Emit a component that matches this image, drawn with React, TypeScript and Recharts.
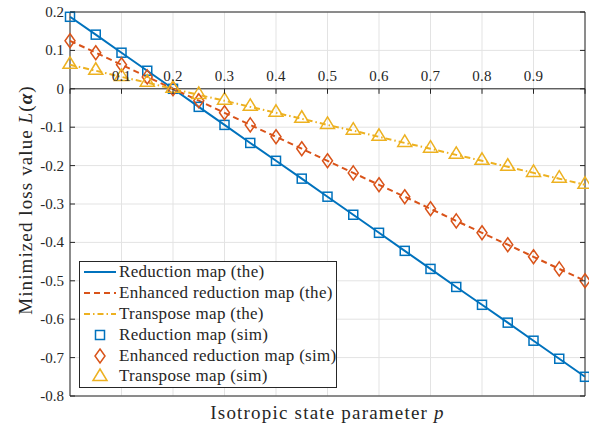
// LossChart.tsx
import {
  LineChart,
  Line,
  XAxis,
  YAxis,
  CartesianGrid,
  ReferenceLine,
  ReferenceArea,
  Legend,
} from "recharts";

const pValues = [
  0, 0.05, 0.1, 0.15, 0.2, 0.25, 0.3, 0.35, 0.4, 0.45, 0.5, 0.55, 0.6, 0.65,
  0.7, 0.75, 0.8, 0.85, 0.9, 0.95, 1,
];

const reductionVals = [
  0.1875, 0.141, 0.094, 0.047, 0, -0.047, -0.094, -0.141, -0.1875, -0.234,
  -0.281, -0.328, -0.375, -0.422, -0.469, -0.516, -0.5625, -0.609, -0.656,
  -0.703, -0.75,
];

const enhancedVals = [
  0.125, 0.094, 0.0625, 0.031, 0, -0.031, -0.0625, -0.094, -0.125, -0.156,
  -0.1875, -0.219, -0.25, -0.281, -0.3125, -0.344, -0.375, -0.406, -0.4375,
  -0.469, -0.5,
];

const transposeVals = [
  0.0625, 0.047, 0.031, 0.016, 0, -0.016, -0.031, -0.047, -0.0625, -0.078,
  -0.094, -0.109, -0.125, -0.141, -0.156, -0.172, -0.1875, -0.203, -0.219,
  -0.234, -0.25,
];

const xTicks = [0, 0.1, 0.2, 0.3, 0.4, 0.5, 0.6, 0.7, 0.8, 0.9, 1];
const yTicks = [0.2, 0.1, 0, -0.1, -0.2, -0.3, -0.4, -0.5, -0.6, -0.7, -0.8];

const data = pValues.map((p, i) => ({
  p,
  red: reductionVals[i],
  enh: enhancedVals[i],
  tra: transposeVals[i],
}));

const BLUE = "#0072BD";
const ORANGE = "#D95319";
const YELLOW = "#EDB120";
const AXIS = "#262626";
const FONT = "'Liberation Serif', 'Times New Roman', serif";

// plot box in pixels
const PLOT_LEFT = 70;
const PLOT_RIGHT = 585;
const PLOT_TOP = 12;
const PLOT_BOTTOM = 396;
const ZERO_Y = PLOT_TOP + ((PLOT_BOTTOM - PLOT_TOP) * 0.2) / 1.0;

const Square = ({ cx, cy, size = 4.5 }: any) => (
  <rect
    x={cx - size}
    y={cy - size}
    width={size * 2}
    height={size * 2}
    fill="none"
    stroke={BLUE}
    strokeWidth={1.5}
  />
);

const Diamond = ({ cx, cy }: any) => (
  <polygon
    points={`${cx},${cy - 7} ${cx + 5},${cy} ${cx},${cy + 7} ${cx - 5},${cy}`}
    fill="none"
    stroke={ORANGE}
    strokeWidth={1.5}
  />
);

const Triangle = ({ cx, cy }: any) => (
  <polygon
    points={`${cx},${cy - 8} ${cx + 7},${cy + 3.5} ${cx - 7},${cy + 3.5}`}
    fill="none"
    stroke={YELLOW}
    strokeWidth={1.5}
  />
);

const XTick = ({ payload }: any) => {
  const v = payload.value;
  const x = payload.coordinate;
  return (
    <g>
      <line x1={x} x2={x} y1={ZERO_Y} y2={ZERO_Y + 5} stroke={AXIS} />
      {v > 0 && v < 1 && (
        <text
          x={x}
          y={ZERO_Y - 8}
          textAnchor="middle"
          fontSize={15}
          style={{ fontFamily: FONT, letterSpacing: 0.3 }}
          fill={AXIS}
        >
          {v.toFixed(1)}
        </text>
      )}
    </g>
  );
};

const YTick = ({ payload }: any) => {
  const v = payload.value;
  const y = payload.coordinate;
  return (
    <g>
      <line x1={PLOT_LEFT} x2={PLOT_LEFT + 5} y1={y} y2={y} stroke={AXIS} />
      <line x1={PLOT_RIGHT} x2={PLOT_RIGHT - 5} y1={y} y2={y} stroke={AXIS} />
      <text
        x={PLOT_LEFT - 6}
        y={y}
        dy={5}
        textAnchor="end"
        fontSize={15}
        style={{ fontFamily: FONT }}
        fill={AXIS}
      >
        {v === 0 ? "0" : v.toFixed(1)}
      </text>
    </g>
  );
};

const legendItems = [
  { label: "Reduction map (the)", kind: "line", color: BLUE, dash: undefined },
  { label: "Enhanced reduction map (the)", kind: "line", color: ORANGE, dash: "6 4" },
  { label: "Transpose map (the)", kind: "line", color: YELLOW, dash: "6 3 1.5 3" },
  { label: "Reduction map (sim)", kind: "square", color: BLUE },
  { label: "Enhanced reduction map (sim)", kind: "diamond", color: ORANGE },
  { label: "Transpose map (sim)", kind: "triangle", color: YELLOW },
];

const LegendBox = () => (
  <div
    style={{
      border: `1px solid ${AXIS}`,
      background: "#fff",
      padding: "0 4px 0 3px",
      fontFamily: FONT,
      fontSize: 17,
      letterSpacing: 0.3,
      color: AXIS,
      boxSizing: "border-box",
      width: 258,
    }}
  >
    {legendItems.map((it) => (
      <div
        key={it.label}
        style={{ display: "flex", alignItems: "center", height: 20.8 }}
      >
        <svg width={36} height={20} style={{ flexShrink: 0 }}>
          {it.kind === "line" && (
            <line
              x1={1}
              x2={33}
              y1={10}
              y2={10}
              stroke={it.color}
              strokeWidth={2}
              strokeDasharray={it.dash}
            />
          )}
          {it.kind === "square" && <Square cx={17} cy={10} />}
          {it.kind === "diamond" && <Diamond cx={17} cy={10} />}
          {it.kind === "triangle" && <Triangle cx={17} cy={11} />}
        </svg>
        <span style={{ whiteSpace: "nowrap" }}>{it.label}</span>
      </div>
    ))}
  </div>
);

export default function App() {
  return (
    <div style={{ position: "absolute", left: 0, top: 0, fontFamily: FONT }}>
      <LineChart
        width={589}
        height={430}
        data={data}
        margin={{ top: PLOT_TOP, right: 589 - PLOT_RIGHT, left: 0, bottom: 4 }}
        style={{ fontFamily: FONT }}
      >
        <CartesianGrid stroke="#e3e3e3" strokeWidth={1} />
        <XAxis
          dataKey="p"
          type="number"
          domain={[0, 1]}
          ticks={xTicks}
          axisLine={false}
          tickLine={false}
          tick={<XTick />}
          height={30}
          label={() => (
            <text
              x={(PLOT_LEFT + PLOT_RIGHT) / 2}
              y={419}
              textAnchor="middle"
              fontSize={19}
              style={{ fontFamily: FONT, letterSpacing: 1.2 }}
              fill={AXIS}
            >
              Isotropic state parameter <tspan fontStyle="italic">p</tspan>
            </text>
          )}
        />
        <YAxis
          type="number"
          domain={[-0.8, 0.2]}
          ticks={yTicks}
          width={PLOT_LEFT}
          axisLine={false}
          tickLine={false}
          tick={<YTick />}
          label={() => (
            <text
              x={0}
              y={0}
              transform={`translate(32, 200) rotate(-90)`}
              textAnchor="middle"
              fontSize={19}
              style={{ fontFamily: FONT, letterSpacing: 1.1 }}
              fill={AXIS}
            >
              Minimized loss value <tspan fontStyle="italic">L</tspan>(
              <tspan fontWeight="bold" fontStyle="italic">α</tspan>)
            </text>
          )}
        />
        <ReferenceArea
          x1={0}
          x2={1}
          y1={-0.8}
          y2={0.2}
          fill="none"
          stroke={AXIS}
          strokeWidth={1}
        />
        <ReferenceLine y={0} stroke={AXIS} strokeWidth={1} />

        <Line
          dataKey="red"
          stroke={BLUE}
          strokeWidth={2}
          dot={false}
          activeDot={false}
          isAnimationActive={false}
        />
        <Line
          dataKey="enh"
          stroke={ORANGE}
          strokeWidth={2}
          strokeDasharray="6 4"
          dot={false}
          activeDot={false}
          isAnimationActive={false}
        />
        <Line
          dataKey="tra"
          stroke={YELLOW}
          strokeWidth={2}
          strokeDasharray="6 3 1.5 3"
          dot={false}
          activeDot={false}
          isAnimationActive={false}
        />
        <Line
          dataKey="red"
          stroke="none"
          dot={(props: any) => <Square key={`s${props.index}`} cx={props.cx} cy={props.cy} />}
          activeDot={false}
          isAnimationActive={false}
        />
        <Line
          dataKey="enh"
          stroke="none"
          dot={(props: any) => <Diamond key={`d${props.index}`} cx={props.cx} cy={props.cy} />}
          activeDot={false}
          isAnimationActive={false}
        />
        <Line
          dataKey="tra"
          stroke="none"
          dot={(props: any) => <Triangle key={`t${props.index}`} cx={props.cx} cy={props.cy} />}
          activeDot={false}
          isAnimationActive={false}
        />

        <Legend
          layout="vertical"
          align="center"
          verticalAlign="middle"
          content={() => <LegendBox />}
          wrapperStyle={{ left: 79, top: 261, width: 258, height: "auto" }}
        />
      </LineChart>
    </div>
  );
}
